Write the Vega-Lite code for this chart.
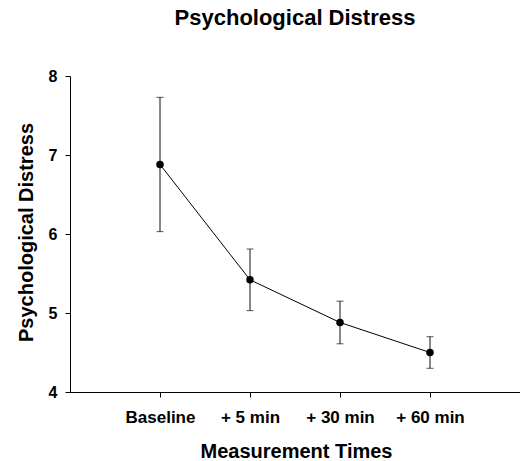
{
  "$schema": "https://vega.github.io/schema/vega-lite/v6.json",
  "autosize": "none",
  "width": 450,
  "height": 316,
  "padding": {"left": 70, "top": 76, "right": 0, "bottom": 69},
  "background": "white",
  "title": {
    "text": "Psychological Distress",
    "font": "Liberation Sans",
    "fontSize": 22,
    "fontWeight": "bold",
    "color": "black",
    "anchor": "middle",
    "frame": "group",
    "baseline": "alphabetic",
    "offset": 21
  },
  "config": {
    "view": {"stroke": null},
    "axis": {
      "domainColor": "black",
      "tickColor": "black",
      "domainWidth": 1,
      "tickWidth": 1,
      "tickSize": 5,
      "grid": false,
      "labelFont": "Liberation Sans",
      "labelFontWeight": "bold",
      "labelFontSize": 16,
      "labelColor": "black",
      "titleFont": "Liberation Sans",
      "titleFontWeight": "bold",
      "titleFontSize": 20,
      "titleColor": "black"
    }
  },
  "data": {
    "values": [
      {"time": "Baseline", "mean": 6.88, "lo": 6.03, "hi": 7.73},
      {"time": "+ 5 min", "mean": 5.42, "lo": 5.03, "hi": 5.81},
      {"time": "+ 30 min", "mean": 4.88, "lo": 4.61, "hi": 5.15},
      {"time": "+ 60 min", "mean": 4.50, "lo": 4.30, "hi": 4.70}
    ]
  },
  "encoding": {
    "x": {
      "field": "time",
      "type": "ordinal",
      "sort": ["Baseline", "+ 5 min", "+ 30 min", "+ 60 min"],
      "scale": {"type": "point", "padding": 1},
      "axis": {
        "title": "Measurement Times",
        "labelAngle": 0,
        "labelFontSize": 17,
        "labelBaseline": "alphabetic",
        "labelPadding": 25,
        "titleBaseline": "alphabetic",
        "titleX": 226,
        "titleY": 65
      }
    }
  },
  "layer": [
    {
      "mark": {"type": "rule", "color": "#111111", "strokeWidth": 1},
      "encoding": {
        "y": {
          "field": "lo",
          "type": "quantitative",
          "scale": {"domain": [4, 8], "nice": false, "zero": false},
          "axis": {
            "title": "Psychological Distress",
            "values": [4, 5, 6, 7, 8],
            "format": "d",
            "labelPadding": 8,
            "titleAngle": -90,
            "titleBaseline": "alphabetic",
            "titleX": -38,
            "titleY": 156
          }
        },
        "y2": {"field": "hi"}
      }
    },
    {
      "mark": {"type": "tick", "orient": "horizontal", "color": "#111111", "size": 7, "thickness": 1},
      "encoding": {"y": {"field": "lo", "type": "quantitative"}}
    },
    {
      "mark": {"type": "tick", "orient": "horizontal", "color": "#111111", "size": 7, "thickness": 1},
      "encoding": {"y": {"field": "hi", "type": "quantitative"}}
    },
    {
      "mark": {"type": "line", "color": "black", "strokeWidth": 1},
      "encoding": {"y": {"field": "mean", "type": "quantitative"}}
    },
    {
      "mark": {"type": "point", "filled": true, "color": "black", "opacity": 1, "size": 56, "shape": "circle"},
      "encoding": {"y": {"field": "mean", "type": "quantitative"}}
    }
  ]
}
